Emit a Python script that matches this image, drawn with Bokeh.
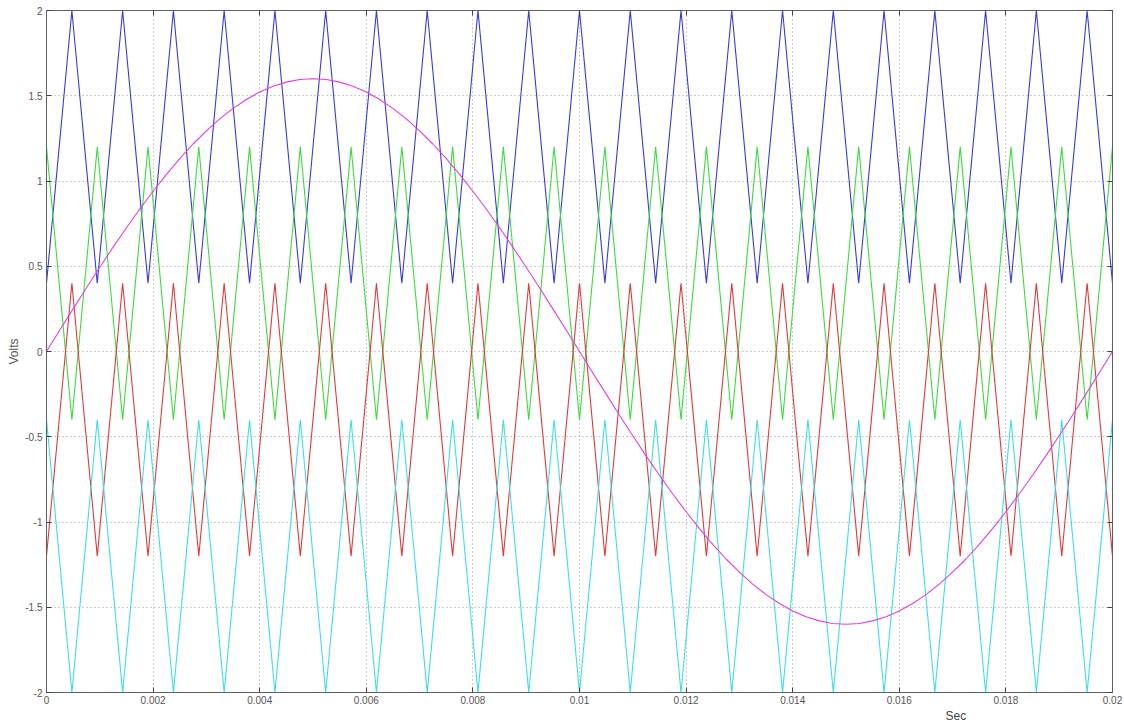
import numpy as np
from bokeh.plotting import figure
from bokeh.models import LinearAxis, Range1d, FixedTicker, Title, CustomJSTickFormatter, Grid
from bokeh.embed import file_html
from bokeh.resources import INLINE

# Level-shifted triangular carriers: 21 cycles over one 50 Hz period,
# vertices every half carrier period (0 .. 0.02 s, 43 vertices)
carrier_cycles = 21
blue_band = (0.4, 2.0)      # starts at its valley
green_band = (-0.4, 1.2)    # starts at its peak
red_band = (-1.2, 0.4)      # starts at its valley
cyan_band = (-2.0, -0.4)    # starts at its peak

# Sinusoidal reference, sampled every 0.25 ms
ref_values = [
    0.0, 0.126, 0.250, 0.374, 0.494, 0.612, 0.726, 0.836, 0.940, 1.039,
    1.131, 1.217, 1.294, 1.364, 1.426, 1.478, 1.522, 1.556, 1.580, 1.595,
    1.600, 1.595, 1.580, 1.556, 1.522, 1.478, 1.426, 1.364, 1.294, 1.217,
    1.131, 1.039, 0.940, 0.836, 0.726, 0.612, 0.494, 0.374, 0.250, 0.126,
    0.0, -0.126, -0.250, -0.374, -0.494, -0.612, -0.726, -0.836, -0.940, -1.039,
    -1.131, -1.217, -1.294, -1.364, -1.426, -1.478, -1.522, -1.556, -1.580, -1.595,
    -1.600, -1.595, -1.580, -1.556, -1.522, -1.478, -1.426, -1.364, -1.294, -1.217,
    -1.131, -1.039, -0.940, -0.836, -0.726, -0.612, -0.494, -0.374, -0.250, -0.126,
    0.0,
]

x_ticks = [0, 0.002, 0.004, 0.006, 0.008, 0.01, 0.012, 0.014, 0.016, 0.018, 0.02]
y_ticks = [-2, -1.5, -1, -0.5, 0, 0.5, 1, 1.5, 2]

ref_t = np.linspace(0.0, 0.02, len(ref_values))
vert_t = np.linspace(0.0, 0.02, 2 * carrier_cycles + 1)


def carrier(band, start_high):
    lo, hi = band
    seq = [hi, lo] if start_high else [lo, hi]
    return [seq[i % 2] for i in range(len(vert_t))]


p = figure(width=1124, height=722, output_backend="svg", toolbar_location=None,
           x_range=Range1d(0, 0.02), y_range=Range1d(-2, 2),
           x_axis_type=None, y_axis_type=None,
           min_border_left=46, min_border_right=12, min_border_top=10,
           min_border_bottom=27, background_fill_color="white",
           border_fill_color="white")
p.outline_line_color = "#606060"

p.line(vert_t, carrier(blue_band, False), line_color="#3a3ad8", line_width=1.1)
p.line(vert_t, carrier(green_band, True), line_color="#3cdc3c", line_width=1.1)
p.line(vert_t, carrier(red_band, False), line_color="#e03a3a", line_width=1.1)
p.line(vert_t, carrier(cyan_band, True), line_color="#3ce0e0", line_width=1.1)
p.line(ref_t, ref_values, line_color="#e040e0", line_width=1.1)

shown = CustomJSTickFormatter(code="return tick.toString();")
blank = CustomJSTickFormatter(code="return '';")

bottom = LinearAxis(ticker=FixedTicker(ticks=x_ticks), formatter=shown)
left = LinearAxis(ticker=FixedTicker(ticks=y_ticks), formatter=shown)
top = LinearAxis(ticker=FixedTicker(ticks=x_ticks), formatter=blank,
                 major_label_standoff=0)
right = LinearAxis(ticker=FixedTicker(ticks=y_ticks), formatter=blank,
                   major_label_standoff=0)
p.add_layout(bottom, "below")
p.add_layout(left, "left")
p.add_layout(top, "above")
p.add_layout(right, "right")

for ax in (bottom, left, top, right):
    ax.major_tick_in = 5
    ax.major_tick_out = 0
    ax.minor_tick_line_color = None
    ax.axis_line_color = "#606060"
    ax.major_tick_line_color = "#404040"
    ax.major_label_text_font = "Liberation Sans"
    ax.major_label_text_font_size = "10px"
    ax.major_label_text_color = "#555555"

bottom.major_label_standoff = 3
left.major_label_standoff = 4
left.axis_label = "Volts"
left.axis_label_text_font = "Liberation Sans"
left.axis_label_text_font_style = "normal"
left.axis_label_text_font_size = "12px"
left.axis_label_text_color = "#555555"
left.axis_label_standoff = 1

p.add_layout(Grid(dimension=0, ticker=FixedTicker(ticks=x_ticks),
                  grid_line_color="#9a9a9a", grid_line_dash="1 3"))
p.add_layout(Grid(dimension=1, ticker=FixedTicker(ticks=y_ticks),
                  grid_line_color="#9a9a9a", grid_line_dash="1 3"))

# x-axis name sits under the right part of the axis
p.add_layout(Title(text="Sec", align="left", offset=899, standoff=0,
                   text_font="Liberation Sans", text_font_size="12px",
                   text_font_style="normal", text_color="#444444"), "below")

open("out.html", "w").write(file_html(p, INLINE))
